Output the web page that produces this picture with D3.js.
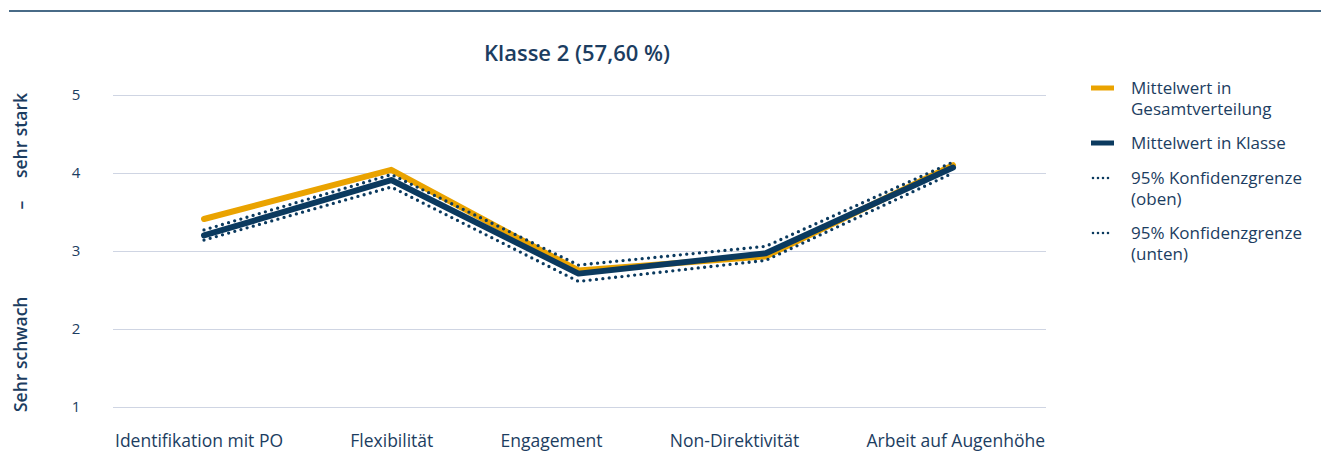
<!DOCTYPE html>
<html>
<head>
<meta charset="utf-8">
<script src="https://cdn.jsdelivr.net/npm/d3@7"></script>
<style>
  html, body { margin: 0; padding: 0; background: #fff; }
  svg { display: block; font-family: "Open Sans", "Noto Sans", sans-serif; }
</style>
</head>
<body>
<svg id="chart" width="1321" height="452"></svg>
<script>
// Dimensions rated on a scale from 1 (sehr schwach) to 5 (sehr stark)
const categories = ["Identifikation mit PO", "Flexibilität", "Engagement", "Non-Direktivität", "Arbeit auf Augenhöhe"];
const meanOverall = [3.41, 4.04, 2.75, 2.93, 4.10];
const meanClass   = [3.20, 3.91, 2.71, 2.97, 4.07];
const ciUpper     = [3.27, 3.98, 2.82, 3.06, 4.14];
const ciLower     = [3.14, 3.82, 2.61, 2.88, 4.00];
const yTicks      = [1, 2, 3, 4, 5];
const title = "Klasse 2 (57,60 %)";

const navy = "#0b3a5f";
const orange = "#eaa300";
const textColor = "#1c3d61";
const gridColor = "#cfd5e3";

const svg = d3.select("#chart");

// Top rule
svg.append("line")
  .attr("x1", 9).attr("x2", 1321).attr("y1", 11).attr("y2", 11)
  .attr("stroke", navy).attr("stroke-width", 1.5);

// Title
svg.append("text")
  .attr("x", 577).attr("y", 61)
  .attr("text-anchor", "middle")
  .attr("fill", textColor)
  .attr("font-size", 22).attr("font-weight", 600)
  .text(title);

const plotLeft = 113, plotRight = 1046;
const x = d3.scalePoint().domain(categories).range([204, 953]);
const y = d3.scaleLinear().domain([1, 5]).range([407, 95]);

// Horizontal gridlines with tick labels
const yAxis = d3.axisLeft(y).tickValues(yTicks).tickSize(-(plotRight - plotLeft)).tickPadding(30).tickFormat(d3.format("d"));
const gy = svg.append("g").attr("transform", `translate(${plotLeft},0)`).call(yAxis);
gy.select(".domain").remove();
gy.selectAll(".tick line").attr("stroke", gridColor).attr("stroke-width", 1);
gy.selectAll(".tick text")
  .attr("fill", textColor).attr("font-size", 15)
  .attr("font-family", "'Open Sans', sans-serif")
  .attr("text-anchor", "middle").attr("x", -37).attr("dy", "0.32em");

// Y-axis caption: "Sehr schwach – sehr stark"
const cap = svg.append("g").attr("fill", textColor).attr("font-size", 17.5).attr("font-weight", 600);
cap.append("text").attr("transform", "translate(27,412) rotate(-90)").attr("text-anchor", "start").text("Sehr schwach");
cap.append("text").attr("transform", "translate(27,205) rotate(-90)").attr("text-anchor", "middle").text("–");
cap.append("text").attr("transform", "translate(27,93) rotate(-90)").attr("text-anchor", "end").text("sehr stark");

// Category labels, spread across the plot width with equal gaps
const labelG = svg.append("g").attr("fill", textColor).attr("font-size", 17.5);
const labels = labelG.selectAll("text").data(categories).join("text")
  .attr("y", 447).text(d => d);
const widths = labels.nodes().map(n => n.getComputedTextLength());
const gap = ((plotRight - 1) - (plotLeft + 2) - d3.sum(widths)) / (categories.length - 1);
let cursor = plotLeft + 2;
labels.attr("x", (d, i) => { const px = cursor; cursor += widths[i] + gap; return px; });

// Lines
const line = d3.line().x((d, i) => x(categories[i])).y(d => y(d));

svg.append("path").datum(meanOverall)
  .attr("d", line).attr("fill", "none")
  .attr("stroke", orange).attr("stroke-width", 6)
  .attr("stroke-linecap", "round").attr("stroke-linejoin", "round");

[ciUpper, ciLower].forEach(series => {
  svg.append("path").datum(series)
    .attr("d", line).attr("fill", "none")
    .attr("stroke", navy).attr("stroke-width", 3.3)
    .attr("stroke-dasharray", "0 6.4")
    .attr("stroke-linecap", "round").attr("stroke-linejoin", "round");
});

svg.append("path").datum(meanClass)
  .attr("d", line).attr("fill", "none")
  .attr("stroke", navy).attr("stroke-width", 6)
  .attr("stroke-linecap", "round").attr("stroke-linejoin", "round");

// Legend: one text element per line of each entry
const legendItems = [
  { lines: ["Mittelwert in", "Gesamtverteilung"], color: orange, dotted: false, y: 88 },
  { lines: ["Mittelwert in Klasse"], color: navy, dotted: false, y: 143 },
  { lines: ["95% Konfidenzgrenze", "(oben)"], color: navy, dotted: true, y: 178 },
  { lines: ["95% Konfidenzgrenze", "(unten)"], color: navy, dotted: true, y: 233 }
];
const lg = svg.append("g");
legendItems.forEach(item => {
  const g = lg.append("g").attr("transform", `translate(0,${item.y})`);
  const l = g.append("line").attr("x1", 1091).attr("x2", 1114).attr("y1", 0).attr("y2", 0)
    .attr("stroke", item.color);
  if (item.dotted) {
    l.attr("stroke-width", 2.6).attr("stroke-dasharray", "0 5").attr("stroke-linecap", "round")
     .attr("x1", 1093).attr("x2", 1113);
  } else {
    l.attr("stroke-width", 5);
  }
  item.lines.forEach((s, i) => {
    g.append("text").attr("x", 1131).attr("y", i * 21.5)
      .attr("dy", "0.35em").attr("fill", textColor).attr("font-size", 17)
      .text(s);
  });
});
</script>
</body>
</html>
